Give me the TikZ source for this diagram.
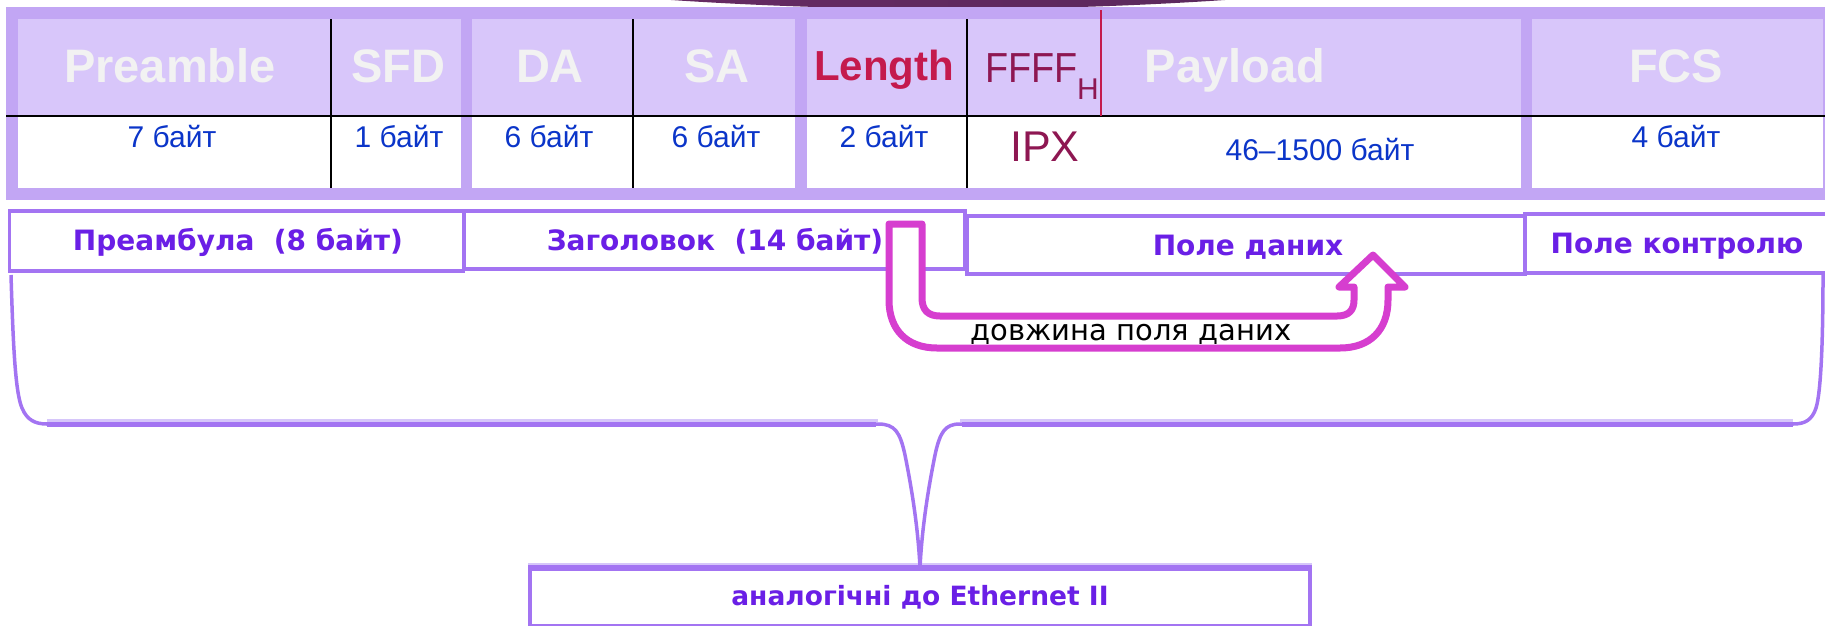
\documentclass[tikz,border=0pt]{standalone}
\usepackage{fontspec}
\setmainfont{Liberation Sans}
\newfontfamily\geofont{DejaVu Sans}
\usetikzlibrary{calc}
\newcommand\pxsize[1]{\fontsize{#1}{#1}\selectfont}

\definecolor{band}{HTML}{C2A6F4}
\definecolor{headfill}{HTML}{D8C6FA}
\definecolor{headtxt}{HTML}{F2F2F2}
\definecolor{lenred}{HTML}{C41A4D}
\definecolor{maroon}{HTML}{8E1752}
\definecolor{bytesblue}{HTML}{0B35C9}
\definecolor{labpurple}{HTML}{6A1FE6}
\definecolor{boxline}{HTML}{A374F2}
\definecolor{boxlight}{HTML}{D6C6FA}
\definecolor{arrowmag}{HTML}{D63ECF}
\definecolor{darkL}{HTML}{722D69}
\definecolor{darkR}{HTML}{4F2657}

\tikzset{
  hdr/.style={font=\pxsize{47}\bfseries, text=headtxt, anchor=base, inner sep=0pt},
  bytes/.style={font=\pxsize{30}, text=bytesblue, anchor=base, inner sep=0pt},
  lowbox/.style={draw=boxline, line width=3.5pt, fill=white, inner sep=0pt},
  lowtxt/.style={font=\geofont\pxsize{28}\bfseries, text=labpurple, anchor=base, inner sep=0pt},
  bracestroke/.style={draw=boxline, line width=3.5pt, line join=round},
  bracelight/.style={draw=boxlight, line width=3pt},
  bracebar/.style={draw=boxline, line width=5pt},
  bigarrow/.style={draw=arrowmag, fill=white, line width=7pt, line join=round},
}

\begin{document}
\begin{tikzpicture}[x=1pt,y=-1pt]
\useasboundingbox (0,0) rectangle (1825,625);

% dark title shape peeking in at the top
\begin{scope}
  \clip (0,0) rectangle (1825,625);
  \shade[left color=darkL, right color=darkR] (948,-200) ellipse [x radius=951pt, y radius=209pt];
\end{scope}

% frame of the field table
\fill[band] (6,7) rectangle (1840,200);
\fill[headfill] (18,19) rectangle (1823,116);
\fill[white] (18,117) rectangle (1823,188);
\foreach \a/\b in {461/472, 795/807, 1521/1532}
  \fill[band] (\a,19) rectangle (\b,188);
\foreach \xx in {330.5, 633, 967}
  \draw[black, line width=2pt] (\xx,19) -- (\xx,188);
\draw[black, line width=2.8pt] (6,116) -- (1825,116);
\draw[lenred, line width=2pt] (1101,10) -- (1101,116);

% field names
\node[hdr] (preamble) at (170,82) {Preamble};
\node[hdr] (sfd) at (398,82) {SFD};
\node[hdr] (da) at (550,82) {DA};
\node[hdr] (sa) at (717,82) {SA};
\node[hdr, text=lenred, font=\pxsize{42}\bfseries] (length) at (884,80) {Length};
\node[anchor=base west, inner sep=0pt, text=maroon, font=\pxsize{42}] (ffff) at (985,82) {\scalebox{0.9}[1]{FFFF}};
\node[anchor=base west, inner sep=0pt, text=maroon, font=\pxsize{30}] (hsub) at (1077,99) {H};
\node[hdr] (payload) at (1235,82) {Payload};
\node[hdr] (fcs) at (1676,82) {FCS};

% field sizes
\node[bytes] (b1) at (172,147) {7 байт};
\node[bytes] (b2) at (399,147) {1 байт};
\node[bytes] (b3) at (549,147) {6 байт};
\node[bytes] (b4) at (716,147) {6 байт};
\node[bytes] (b5) at (884,147) {2 байт};
\node[anchor=base, inner sep=0pt, text=maroon, font=\pxsize{43}] (ipx) at (1045,161) {IPX};
\node[bytes] (b6) at (1320,160) {46–1500 байт};
\node[bytes] (b7) at (1676,147) {4 байт};

% frame parts
\node[lowbox, minimum width=454pt, minimum height=60pt] (preBox) at (236.5,241) {};
\node[lowbox, minimum width=501pt, minimum height=58pt] (hdrBox) at (714.5,240) {};
\node[lowbox, minimum width=558pt, minimum height=58pt] (dataBox) at (1246,245) {};
\node[lowbox, minimum width=310pt, minimum height=59pt] (ctrlBox) at (1680,243.5) {};

% common part
\node[lowbox, minimum width=780pt, minimum height=57pt, anchor=north] (same) at (920,567) {};
\draw[boxlight, line width=3pt] ($(same.north west)+(0,-3)$) -- ($(same.north east)+(0,-3)$);
\draw[boxline, line width=4pt] (same.north west) -- (same.north east);

% brace gathering the preamble and header fields
\coordinate (bL) at (11,275);
\coordinate (bR) at (1823,275);
\draw[bracelight] (47,420) -- (878,420);
\draw[bracelight] (960,420) -- (1793,420);
\draw[bracestroke] (bL) .. controls (13,340) and (15,392) .. (22,408)
  .. controls (27,420) and (35,424) .. (47,424) -- (878,424)
  .. controls (895,424) and (900,432) .. (905,455)
  .. controls (913,495) and (918,530) .. (same.north)
  .. controls (922,530) and (927,495) .. (935,455)
  .. controls (940,432) and (945,424) .. (960,424) -- (1793,424)
  .. controls (1805,424) and (1812,420) .. (1816,408)
  .. controls (1821,392) and (1823,340) .. (bR);
\draw[bracebar] (47,424.5) -- (876,424.5);
\draw[bracebar] (962,424.5) -- (1793,424.5);

% U-turn arrow from the length field to the data field
\draw[bigarrow] (889,224) -- (922,224) -- (922,298)
  .. controls (922,310) and (928,316) .. (940,316) -- (1337,316)
  .. controls (1349,316) and (1354,310) .. (1354,300) -- (1354,287)
  -- (1339,287) -- (1373,255) -- (1405,287) -- (1388,287) -- (1388,300)
  .. controls (1388,330) and (1370,348) .. (1340,348) -- (937,348)
  .. controls (907,348) and (889,330) .. (889,300) -- cycle;
\node[anchor=base, inner sep=0pt, font=\geofont\pxsize{29}] (lenlab) at (1131,340) {довжина поля даних};

% frame part labels
\node[lowtxt] (preT) at (238,250) {Преамбула\ \ (8 байт)};
\node[lowtxt] (hdrT) at (715,250) {Заголовок\ \ (14 байт)};
\node[lowtxt] (dataT) at (1248,255) {Поле даних};
\node[lowtxt] (ctrlT) at (1677,253) {Поле контролю};
\node[lowtxt, font=\geofont\pxsize{26.5}\bfseries] (sameT) at (920,605) {аналогічні до Ethernet II};
\end{tikzpicture}
\end{document}
